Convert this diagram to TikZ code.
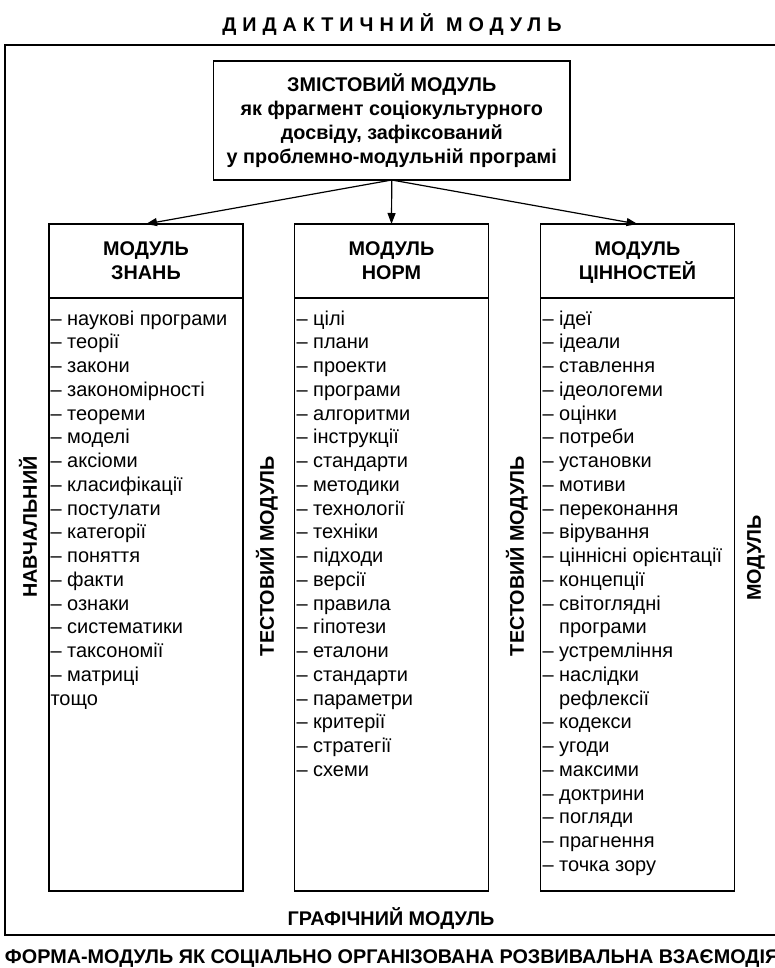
\documentclass[tikz,border=0pt]{standalone}
\usepackage{fontspec}
\setmainfont{Liberation Sans}
\newfontfamily\spacedfont[LetterSpace=30]{Liberation Sans}
\usetikzlibrary{arrows.meta}
\begin{document}
\begin{tikzpicture}[x=1pt,y=-1pt,
  every node/.style={inner sep=0pt,outer sep=0pt},
  txt/.style={font=\fontsize{20}{23.75}\selectfont},
  btxt/.style={font=\fontsize{19.8}{24}\selectfont\bfseries},
  frame/.style={draw=black,line width=1.8pt},
  boxline/.style={draw=black,line width=1.2pt},
  hdr/.style={boxline,minimum width=194pt,minimum height=74pt,align=center,btxt},
  bodybox/.style={boxline,minimum width=194pt,minimum height=593pt},
  item/.style={txt,anchor=base west},
  vlabel/.style={btxt,rotate=90},
  arr/.style={line width=1.2pt,-{Triangle[length=11pt,width=8pt]}}
]
\useasboundingbox (0,0) rectangle (775,968);
\fill[white] (0,0) rectangle (775,968);

% title and outer frame
\node[btxt,anchor=base] (title) at (392,32) {{\spacedfont\bfseries ДИДАКТИЧНИЙ}\hspace{12pt}{\spacedfont\bfseries МОДУЛЬ}};
\draw[frame] (5,45) rectangle (800,935);

% top box
\node[boxline,minimum width=356.5pt,minimum height=119pt,align=center,btxt] (top) at (391.75,120.5)
  {ЗМІСТОВИЙ МОДУЛЬ\\як фрагмент соціокультурного\\досвіду, зафіксований\\у проблемно-модульній програмі};

% module headers
\node[hdr] (h1) at (146,261) {МОДУЛЬ\\ЗНАНЬ};
\node[hdr] (h2) at (391.5,261) {МОДУЛЬ\\НОРМ};
\node[hdr] (h3) at (637.5,261) {МОДУЛЬ\\\raisebox{0pt}[\height][0pt]{ЦІННОСТЕЙ}};

% module bodies
\node[bodybox] (b1) at (146,594.5) {};
\node[bodybox] (b2) at (391.5,594.5) {};
\node[bodybox] (b3) at (637.5,594.5) {};

% arrows
\draw[arr] (top.south) -- (h1.north);
\draw[arr] (top.south) -- (h2.north);
\draw[arr] (top.south) -- (h3.north);

% lists
\foreach \t [count=\i] in {– наукові програми,– теорії,– закони,– закономірності,– теореми,– моделі,– аксіоми,– класифікації,– постулати,– категорії,– поняття,– факти,– ознаки,– систематики,– таксономії,– матриці,тощо}
  \node[item] (ka\i) at (50.5,{325+(\i-1)*23.75}) {\t};

\foreach \t [count=\i] in {– цілі,– плани,– проекти,– програми,– алгоритми,– інструкції,– стандарти,– методики,– технології,– техніки,– підходи,– версії,– правила,– гіпотези,– еталони,– стандарти,– параметри,– критерії,– стратегії,– схеми}
  \node[item] (nb\i) at (296.5,{325+(\i-1)*23.75}) {\t};

\foreach \t [count=\i] in {– ідеї,– ідеали,– ставлення,– ідеологеми,– оцінки,– потреби,– установки,– мотиви,– переконання,– вірування,– ціннісні орієнтації,– концепції,– світоглядні,\phantom{– }програми,– устремління,– наслідки,\phantom{– }рефлексії,– кодекси,– угоди,– максими,– доктрини,– погляди,– прагнення,– точка зору}
  \node[item] (vc\i) at (542.5,{325+(\i-1)*23.75}) {\t};

% vertical labels
\node[vlabel] (l1) at (28,527) {НАВЧАЛЬНИЙ};
\node[vlabel] (l2) at (267,556) {ТЕСТОВИЙ МОДУЛЬ};
\node[vlabel] (l3) at (517,556) {ТЕСТОВИЙ МОДУЛЬ};
\node[vlabel] (l4) at (756,558) {МОДУЛЬ};

% bottom labels
\node[btxt,anchor=base] (graf) at (391,925) {ГРАФІЧНИЙ МОДУЛЬ};
\node[btxt,anchor=base west] (forma) at (5,963) {ФОРМА-МОДУЛЬ ЯК СОЦІАЛЬНО ОРГАНІЗОВАНА РОЗВИВАЛЬНА ВЗАЄМОДІЯ};
\end{tikzpicture}
\end{document}
